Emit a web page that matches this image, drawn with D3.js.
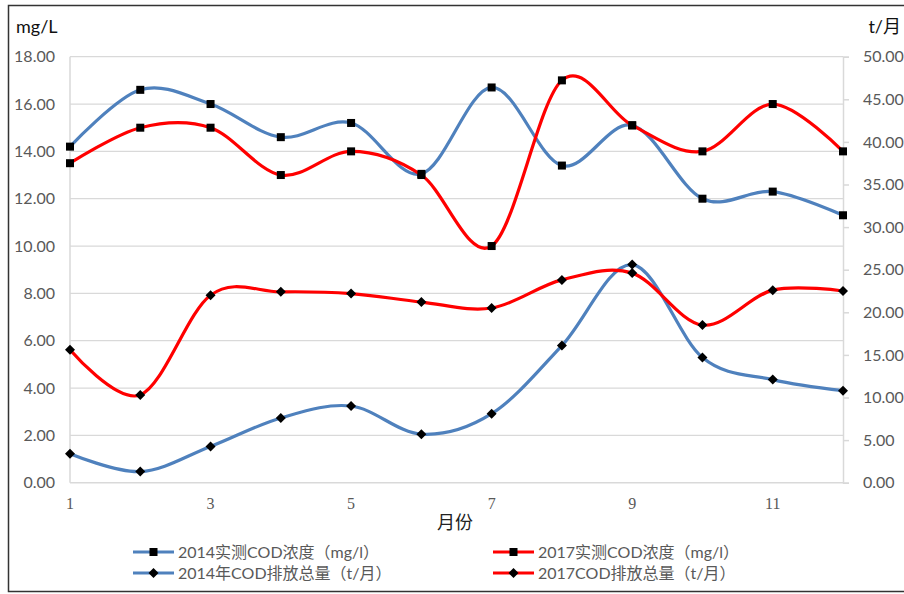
<!DOCTYPE html>
<html><head><meta charset="utf-8">
<script src="https://cdn.jsdelivr.net/npm/d3@7"></script>
<style>body{margin:0;background:#fff;} svg{display:block;}</style>
</head><body>
<svg id="c" width="904" height="594"></svg>
<script>
const months = [1,2,3,4,5,6,7,8,9,10,11,12];
const xTickLabels = [1,3,5,7,9,11];
const leftTicks = [0,2,4,6,8,10,12,14,16,18];
const rightTicks = [0,5,10,15,20,25,30,35,40,45,50];
const conc2014 = [14.2,16.6,16.0,14.6,15.2,13.05,16.7,13.4,15.1,12.0,12.3,11.3];
const conc2017 = [13.5,15.0,15.0,13.0,14.0,13.0,10.0,17.0,15.1,14.0,16.0,14.0];
const emis2014 = [3.4,1.3,4.25,7.6,9.0,5.7,8.1,16.1,25.6,14.7,12.1,10.8];
const emis2017 = [15.6,10.3,22.0,22.4,22.2,21.2,20.5,23.8,24.6,18.5,22.6,22.5];
const seriesNames = ["2014实测COD浓度（mg/l）","2017实测COD浓度（mg/l）","2014年COD排放总量（t/月）","2017COD排放总量（t/月）"];

const BLUE = "#4f81bd", RED = "#ff0000";
const svg = d3.select("#c");
const top_ = 56.7, bottom = 482.7, left = 70, right = 843;
const x = d3.scaleLinear().domain([1,12]).range([left,right]);
const yL = d3.scaleLinear().domain([0,18]).range([bottom,top_]);
const yR = d3.scaleLinear().domain([0,50]).range([bottom,top_]);
const numFont = "Lato, 'Open Sans', 'Noto Sans', sans-serif";
const cjkFont = "Lato, 'Noto Sans CJK SC', sans-serif";

// border
svg.append("rect").attr("x",8.5).attr("y",5.5).attr("width",904).attr("height",586)
  .attr("fill","none").attr("stroke","#333").attr("stroke-width",1.5);

// gridlines
svg.append("g").selectAll("line").data(leftTicks.filter(d=>d>0)).join("line")
  .attr("x1",left).attr("x2",right).attr("y1",d=>yL(d)).attr("y2",d=>yL(d))
  .attr("stroke","#d9d9d9").attr("stroke-width",1.3);

// axis lines
svg.append("line").attr("x1",left).attr("x2",right).attr("y1",bottom).attr("y2",bottom).attr("stroke","#d9d9d9").attr("stroke-width",1.5);
svg.append("line").attr("x1",left).attr("x2",left).attr("y1",top_).attr("y2",bottom).attr("stroke","#d9d9d9").attr("stroke-width",1.5);

// left axis labels
svg.append("g").selectAll("text").data(leftTicks).join("text")
  .attr("x",55).attr("y",d=>yL(d)).attr("dy","0.35em").attr("text-anchor","end")
  .attr("font-family",numFont).attr("font-size",16).attr("fill","#595959")
  .text(d=>d3.format(".2f")(d));

// right axis
const rAxis = d3.axisRight(yR).tickValues(rightTicks).tickFormat(d3.format(".2f")).tickSize(6).tickPadding(14);
const rg = svg.append("g").attr("transform",`translate(${right},0)`).call(rAxis);
rg.select(".domain").attr("stroke","#d9d9d9").attr("stroke-width",1.5);
rg.selectAll(".tick line").attr("stroke","#d9d9d9").attr("stroke-width",1.5);
rg.selectAll(".tick text").attr("font-family",numFont).attr("font-size",16).attr("fill","#595959");

// x tick labels
svg.append("g").selectAll("text").data(xTickLabels).join("text")
  .attr("x",d=>x(d)).attr("y",509).attr("text-anchor","middle")
  .attr("font-family","'Liberation Serif', 'DejaVu Serif', serif").attr("font-size",16).attr("fill","#595959")
  .text(d=>d);

// axis titles
svg.append("text").attr("x",455).attr("y",529).attr("text-anchor","middle")
  .attr("font-family","'Noto Sans CJK SC', sans-serif").attr("font-size",18).attr("fill","#222").text("月份");
svg.append("text").attr("x",16).attr("y",33).attr("font-family",numFont).attr("font-size",18).attr("fill","#111").text("mg/L");
svg.append("text").attr("x",901).attr("y",33).attr("text-anchor","end").attr("font-family",cjkFont).attr("font-size",18).attr("fill","#111").text("t/月");

const curve = d3.curveCardinal.tension(0);
function drawSeries(vals, scale, color, marker){
  const line = d3.line().x((d,i)=>x(months[i])).y(d=>scale(d)).curve(curve);
  svg.append("path").datum(vals).attr("d",line).attr("fill","none").attr("stroke",color).attr("stroke-width",3.2);
  const g = svg.append("g");
  vals.forEach((v,i)=>{
    drawMarker(g, x(months[i]), scale(v), marker);
  });
}
function drawMarker(g, cx, cy, marker){
  if(marker==="square"){
    g.append("rect").attr("x",cx-4).attr("y",cy-4).attr("width",8).attr("height",8).attr("fill","#000");
  } else {
    g.append("path").attr("d",`M${cx},${cy-5}L${cx+5},${cy}L${cx},${cy+5}L${cx-5},${cy}Z`).attr("fill","#000");
  }
}
drawSeries(conc2014, yL, BLUE, "square");
drawSeries(conc2017, yL, RED, "square");
drawSeries(emis2014, yR, BLUE, "diamond");
drawSeries(emis2017, yR, RED, "diamond");

// legend
const legend = [
  {name:seriesNames[0], color:BLUE, marker:"square", x:133, y:552},
  {name:seriesNames[1], color:RED, marker:"square", x:493, y:552},
  {name:seriesNames[2], color:BLUE, marker:"diamond", x:133, y:573},
  {name:seriesNames[3], color:RED, marker:"diamond", x:493, y:573}
];
const lg = svg.append("g");
legend.forEach(l=>{
  lg.append("line").attr("x1",l.x).attr("x2",l.x+41).attr("y1",l.y).attr("y2",l.y).attr("stroke",l.color).attr("stroke-width",3.2);
  drawMarker(lg, l.x+20.5, l.y, l.marker);
  lg.append("text").attr("x",l.x+45).attr("y",l.y).attr("dy","0.35em")
    .attr("font-family",cjkFont).attr("font-size",16).attr("fill","#595959").text(l.name);
});
</script>
</body></html>
